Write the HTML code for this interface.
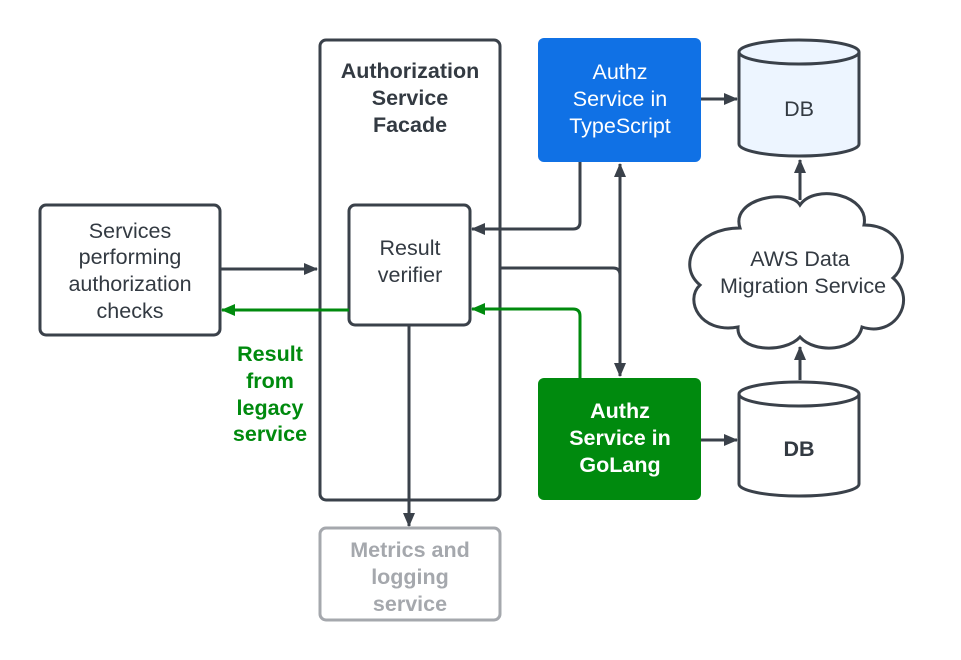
<!DOCTYPE html>
<html><head><meta charset="utf-8"><style>body{margin:0;background:#fff}svg{display:block}text{font-family:"Liberation Sans",sans-serif}</style></head><body>
<svg width="961" height="660" viewBox="0 0 961 660" xmlns="http://www.w3.org/2000/svg">
<defs>
<marker id="a" markerWidth="14" markerHeight="14" refX="13" refY="7" orient="auto" markerUnits="userSpaceOnUse" viewBox="0 0 14 14"><path d="M0,1 L14,7 L0,13z" fill="#3a414a"/></marker>
<marker id="as" markerWidth="14" markerHeight="14" refX="13" refY="7" orient="auto-start-reverse" markerUnits="userSpaceOnUse" viewBox="0 0 14 14"><path d="M0,1 L14,7 L0,13z" fill="#3a414a"/></marker>
<marker id="g" markerWidth="14" markerHeight="14" refX="13" refY="7" orient="auto" markerUnits="userSpaceOnUse" viewBox="0 0 14 14"><path d="M0,1 L14,7 L0,13z" fill="#008a0e"/></marker>
</defs>
<g fill="none" stroke-width="3" stroke="#3a414a">
<rect x="40" y="205" width="180" height="130" rx="6" fill="#fff"/>
<rect x="320" y="40" width="180" height="460" rx="6" fill="#fff"/>
<rect x="349" y="205" width="121" height="120" rx="6" fill="#fff"/>
<rect x="320" y="528" width="180" height="92" rx="6" stroke="#a5a8ad" fill="#fff"/>
</g>
<rect x="538" y="38" width="163" height="124" rx="6" fill="#1071e5"/>
<rect x="538" y="378" width="163" height="122" rx="6" fill="#008a0e"/>
<g stroke="#3a414a" stroke-width="3">
<path d="M739,52 V144 A60,12 0 0 0 859,144 V52" fill="#edf5ff"/>
<ellipse cx="799" cy="52" rx="60" ry="12" fill="#edf5ff"/>
<path d="M739,394 V484 A60,12 0 0 0 859,484 V394" fill="#fff"/>
<ellipse cx="799" cy="394" rx="60" ry="12" fill="#fff"/>
<path d="M740,228 C730,198 790,188 800,205 C815,183 870,195 864,225 C902,225 912,262 893,278 C918,300 895,338 862,327 C857,352 815,354 800,337 C785,354 736,352 738,327 C700,334 684,300 700,285 C676,265 696,228 740,228Z" fill="#fff"/>
</g>
<g fill="none" stroke="#3a414a" stroke-width="3">
<path d="M220,269 H317" marker-end="url(#a)"/>
<path d="M580,162 V222 Q580,229 573,229 H472" marker-end="url(#as)"/>
<path d="M500,268 H613 Q620,268 620,275"/>
<path d="M620,164 V376" marker-start="url(#as)" marker-end="url(#as)"/>
<path d="M409,325 V526" marker-end="url(#as)"/>
<path d="M701,99 H737" marker-end="url(#as)"/>
<path d="M701,440 H737" marker-end="url(#as)"/>
<path d="M800,200 V160" marker-end="url(#as)"/>
<path d="M800,380 V347" marker-end="url(#as)"/>
</g>
<g fill="none" stroke="#008a0e" stroke-width="3">
<path d="M349,310 H222" marker-end="url(#g)"/>
<path d="M580,378 V316 Q580,309 573,309 H472" marker-end="url(#g)"/>
</g>
<g font-size="21.5" fill="#333a42" text-anchor="middle">
<text x="130" y="238">Services</text><text x="130" y="264">performing</text><text x="130" y="291">authorization</text><text x="130" y="318">checks</text>
<text x="410" y="255">Result</text><text x="410" y="282">verifier</text>
<g font-weight="bold"><text x="410" y="78">Authorization</text><text x="410" y="105">Service</text><text x="410" y="132">Facade</text></g>
<g font-weight="bold" fill="#a5a8ad"><text x="410" y="557">Metrics and</text><text x="410" y="584">logging</text><text x="410" y="611">service</text></g>
<g fill="#fff"><text x="620" y="79">Authz</text><text x="620" y="106">Service in</text><text x="620" y="133">TypeScript</text></g>
<g fill="#fff" font-weight="bold"><text x="620" y="418">Authz</text><text x="620" y="445">Service in</text><text x="620" y="472">GoLang</text></g>
<text x="799" y="116">DB</text>
<text x="799" y="456" font-weight="bold">DB</text>
<text x="800" y="266">AWS Data</text><text x="803" y="293">Migration Service</text>
<g fill="#008a0e" font-weight="bold"><text x="270" y="361">Result</text><text x="270" y="388">from</text><text x="270" y="415">legacy</text><text x="270" y="441">service</text></g>
</g>
</svg>
</body></html>
